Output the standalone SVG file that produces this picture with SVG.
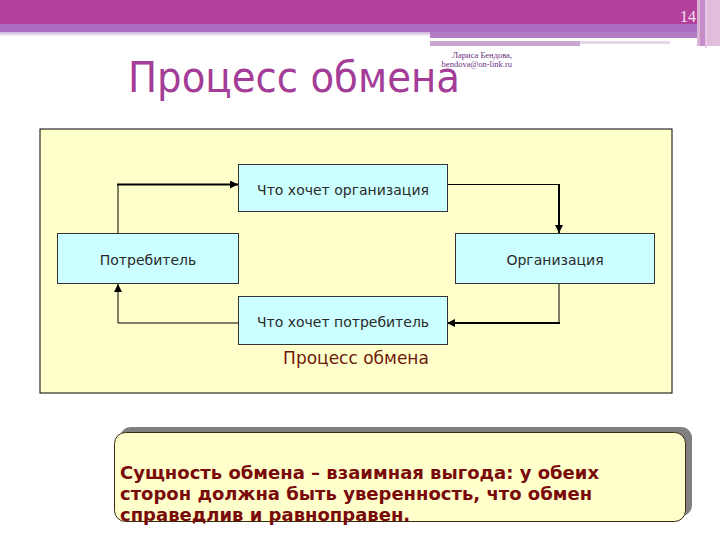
<svg xmlns="http://www.w3.org/2000/svg" width="720" height="540" viewBox="0 0 720 540">
<defs>
<marker id="ah" viewBox="0 0 8 8" refX="8" refY="4" markerWidth="8" markerHeight="8" markerUnits="userSpaceOnUse" orient="auto">
<path d="M0,0 L8,4 L0,8 z" fill="#000"/>
</marker>
</defs>
<style>
.node rect{fill:#ccffff;stroke:#333;stroke-width:1}
.node text{font-family:"DejaVu Sans",sans-serif;font-size:14px;fill:#2a2a2a;text-anchor:middle}
.thin{fill:none;stroke:#000;stroke-width:1}
.thick{fill:none;stroke:#000;stroke-width:2}
.note{font-family:"DejaVu Sans",sans-serif;font-weight:bold;font-size:18px;fill:#7a0a0a}
</style>
<rect width="720" height="540" fill="#ffffff"/>
<g id="header">
<rect x="0" y="0" width="720" height="24" fill="#b3409a"/>
<rect x="0" y="24" width="700" height="8" fill="#a96cc0"/>
<rect x="0" y="32" width="430" height="2" fill="#d6bede"/>
<rect x="0" y="34" width="430" height="2" fill="#efe4f2"/>
<rect x="430" y="32" width="270" height="6" fill="#b27cc6"/>
<rect x="430" y="38" width="270" height="3" fill="#ffffff"/>
<rect x="430" y="41" width="150" height="5" fill="#c9a6d2"/>
<rect x="580" y="41" width="90" height="3" fill="#e6d6ea"/>
<rect x="697" y="0" width="3" height="46" fill="#d9b3d6"/>
<rect x="700" y="0" width="5" height="46" fill="#c58cc8"/>
<rect x="705" y="0" width="2" height="48" fill="#e9c6e4"/>
<rect x="707" y="0" width="13" height="46" fill="#e2bedc"/>
<text x="680" y="22" font-family="'Liberation Serif',serif" font-size="16" fill="#f4e4f2">14</text>
</g>
<g id="author" font-family="'Liberation Serif',serif" font-size="8.5" fill="#6a3080" text-anchor="end">
<text x="512" y="58">Лариса Бендова,</text>
<text x="512" y="67">bendova@on-link.ru</text>
</g>
<g id="title">
<text x="128" y="92" font-family="'DejaVu Sans',sans-serif" font-size="42" fill="#a33d97" textLength="332" lengthAdjust="spacingAndGlyphs">Процесс обмена</text>
</g>
<g id="frame">
<rect x="40" y="129" width="632" height="264" fill="#ffffcc" stroke="#000" stroke-width="1"/>
</g>
<g id="connectors">
<path class="thin" d="M118,233 V184.5"/>
<path class="thick" d="M117,184.5 H238" marker-end="url(#ah)"/>
<path class="thin" d="M447,184.5 H559"/>
<path class="thick" d="M559,184 V233" marker-end="url(#ah)"/>
<path class="thin" d="M559,284 V323"/>
<path class="thick" d="M560,323 H447" marker-end="url(#ah)"/>
<path class="thin" d="M238,323 H118 V284" marker-end="url(#ah)"/>
</g>
<g id="n-want-org" class="node">
<rect x="238.5" y="164.5" width="209" height="47"/>
<text x="343" y="195">Что хочет организация</text>
</g>
<g id="n-consumer" class="node">
<rect x="57.5" y="233.5" width="181" height="50"/>
<text x="148" y="265">Потребитель</text>
</g>
<g id="n-org" class="node">
<rect x="455.5" y="233.5" width="199" height="50"/>
<text x="555" y="265">Организация</text>
</g>
<g id="n-want-cons" class="node">
<rect x="238.5" y="296.5" width="209" height="48"/>
<text x="343" y="327">Что хочет потребитель</text>
</g>
<g id="caption">
<text x="356" y="364" font-family="'DejaVu Sans',sans-serif" font-size="17" fill="#6e1a0a" text-anchor="middle">Процесс обмена</text>
</g>
<g id="note">
<rect x="120" y="427" width="572" height="89" rx="11" fill="#808080"/>
<rect x="114.5" y="432.5" width="571" height="89" rx="11" fill="#ffffcc" stroke="#3a2a10" stroke-width="1"/>
<text class="note" x="120" y="479">Сущность обмена – взаимная выгода: у обеих</text>
<text class="note" x="120" y="500">сторон должна быть уверенность, что обмен</text>
<text class="note" x="120" y="521">справедлив и равноправен.</text>
</g>
</svg>
